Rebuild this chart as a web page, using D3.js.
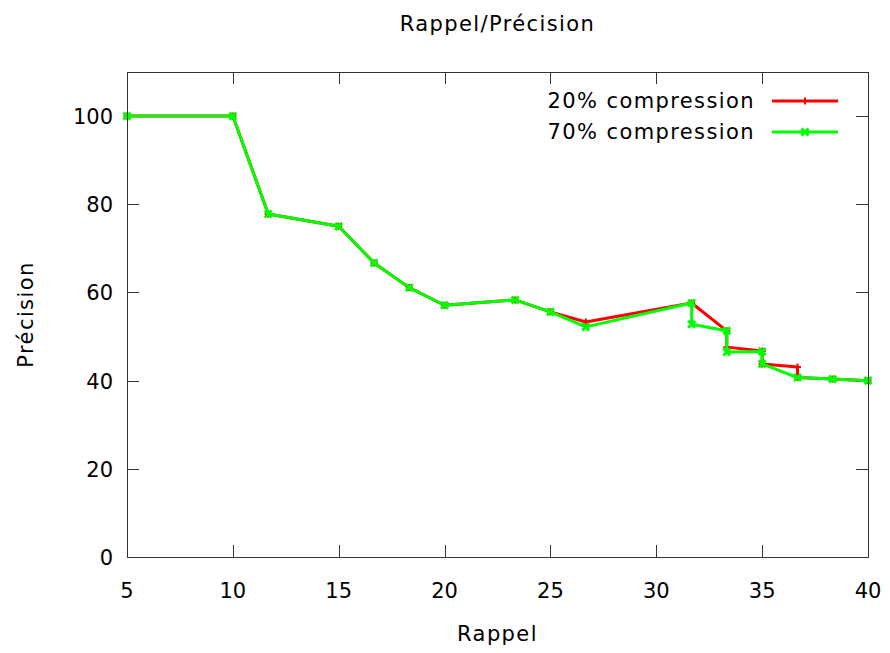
<!DOCTYPE html>
<html>
<head>
<meta charset="utf-8">
<script src="https://cdn.jsdelivr.net/npm/d3@7"></script>
<style>
  body { margin: 0; background: #fff; }
  svg { font-family: "DejaVu Sans", sans-serif; }
  .lbl { font-size: 21px; letter-spacing: 1.4px; }
</style>
</head>
<body>
<div class="plot-container"></div>
<script>
// Rappel (recall) / precision values
const rappel20 = [5, 10, 11.67, 15, 16.67, 18.33, 20, 23.33, 25, 26.67, 31.67, 33.33, 33.33, 35, 35, 36.67, 36.67, 38.33, 40];
const precision20 = [100, 100, 77.8, 75, 66.7, 61.1, 57.1, 58.3, 55.6, 53.3, 57.6, 51.3, 47.6, 46.7, 43.8, 43.1, 40.7, 40.35, 40];

const rappel70 = [5, 10, 11.67, 15, 16.67, 18.33, 20, 23.33, 25, 26.67, 31.67, 31.67, 33.33, 33.33, 35, 35, 36.67, 38.33, 40];
const precision70 = [100, 100, 77.8, 75, 66.7, 61.1, 57.1, 58.3, 55.6, 52.2, 57.6, 52.8, 51.3, 46.5, 46.6, 43.8, 40.7, 40.35, 40];

const seriesNames = ["20% compression", "70% compression"];
const seriesColors = ["#ff0000", "#00ff00"];

const xTicks = [5, 10, 15, 20, 25, 30, 35, 40];
const yTicks = [0, 20, 40, 60, 80, 100];

const width = 890, height = 653;
const margin = { left: 127, right: 22, top: 72, bottom: 96 };

const svg = d3.select("div.plot-container").append("svg")
  .attr("width", width)
  .attr("height", height);

const x = d3.scaleLinear().domain([5, 40]).range([margin.left, width - margin.right]);
const y = d3.scaleLinear().domain([0, 110]).range([height - margin.bottom, margin.top]);

const AXIS_COLOR = "#333";
const TICK_LEN = 12;
const FONT_SIZE = "21px";

// ticks, mirrored on all four sides, pointing inward
const ticks = svg.append("g").attr("stroke", AXIS_COLOR).attr("stroke-width", 1);
xTicks.forEach(t => {
  const px = Math.round(x(t)) + 0.5;
  ticks.append("line").attr("x1", px).attr("x2", px).attr("y1", y(0)).attr("y2", y(0) - TICK_LEN);
  ticks.append("line").attr("x1", px).attr("x2", px).attr("y1", y(110)).attr("y2", y(110) + TICK_LEN);
});
yTicks.forEach(t => {
  const py = Math.round(y(t)) + 0.5;
  ticks.append("line").attr("x1", x(5)).attr("x2", x(5) + TICK_LEN).attr("y1", py).attr("y2", py);
  ticks.append("line").attr("x1", x(40)).attr("x2", x(40) - TICK_LEN).attr("y1", py).attr("y2", py);
});

// tick labels
svg.append("g").selectAll("text")
  .data(xTicks).enter().append("text")
  .attr("x", d => x(d))
  .attr("y", y(0) + 41)
  .attr("text-anchor", "middle")
  .style("font-size", FONT_SIZE)
  .text(d => d);

svg.append("g").selectAll("text")
  .data(yTicks).enter().append("text")
  .attr("x", x(5) - 14)
  .attr("y", d => y(d) + 8)
  .attr("text-anchor", "end")
  .style("font-size", FONT_SIZE)
  .text(d => d);

// Draw the series
const line = d3.line().x(d => x(d[0])).y(d => y(d[1]));

function plusPath(s) {
  return `M${-s},0H${s}M0,${-s}V${s}`;
}
function crossPath(s) {
  return `M${-s},${-s}L${s},${s}M${-s},${s}L${s},${-s}`;
}

const series = [
  { pts: d3.zip(rappel20, precision20), color: seriesColors[0], marker: plusPath(3.5), mw: 2 },
  { pts: d3.zip(rappel70, precision70), color: seriesColors[1], marker: crossPath(3.5), mw: 3 }
];

series.forEach(s => {
  const g = svg.append("g");
  g.append("path")
    .attr("d", line(s.pts))
    .attr("fill", "none")
    .attr("stroke", s.color)
    .attr("stroke-width", 3)
    .attr("stroke-linejoin", "round");
  g.selectAll("path.marker")
    .data(s.pts).enter().append("path")
    .attr("class", "marker")
    .attr("transform", d => `translate(${x(d[0])},${y(d[1])})`)
    .attr("d", s.marker)
    .attr("stroke", s.color)
    .attr("stroke-width", s.mw)
    .attr("fill", "none");
});

// frame
svg.append("rect")
  .attr("x", x(5) + 0.5)
  .attr("y", y(110) + 0.5)
  .attr("width", x(40) - x(5))
  .attr("height", y(0) - y(110))
  .attr("fill", "none")
  .attr("stroke", AXIS_COLOR)
  .attr("stroke-width", 1);

// legend
const legend = svg.append("g");
seriesNames.forEach((name, i) => {
  const ly = 101 + i * 31;
  legend.append("text")
    .attr("class", "lbl")
    .attr("x", 755)
    .attr("y", ly + 7)
    .attr("text-anchor", "end")
    .text(name);
  legend.append("line")
    .attr("x1", 772).attr("x2", 838)
    .attr("y1", ly).attr("y2", ly)
    .attr("stroke", seriesColors[i])
    .attr("stroke-width", 3);
  legend.append("path")
    .attr("transform", `translate(805,${ly})`)
    .attr("d", series[i].marker)
    .attr("stroke", seriesColors[i])
    .attr("stroke-width", series[i].mw)
    .attr("fill", "none");
});

// titles
svg.append("text")
  .attr("class", "lbl")
  .attr("x", (x(5) + x(40)) / 2)
  .attr("y", 31)
  .attr("text-anchor", "middle")
  .text("Rappel/Précision");

svg.append("text")
  .attr("class", "lbl")
  .attr("x", (x(5) + x(40)) / 2)
  .attr("y", 641)
  .attr("text-anchor", "middle")
  .text("Rappel");

svg.append("text")
  .attr("class", "lbl")
  .attr("transform", `translate(33,${(y(0) + y(110)) / 2}) rotate(-90)`)
  .attr("text-anchor", "middle")
  .text("Précision");
</script>
</body>
</html>
